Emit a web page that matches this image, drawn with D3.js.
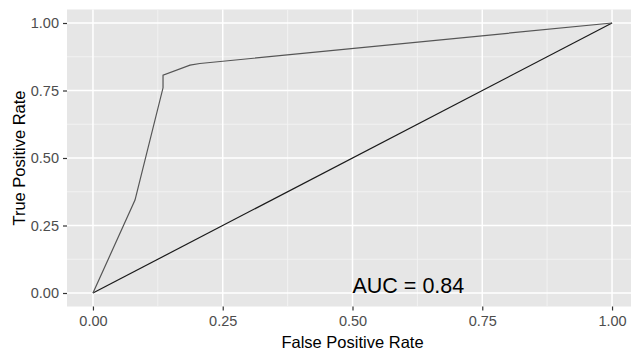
<!DOCTYPE html>
<html>
<head>
<meta charset="utf-8">
<script src="https://cdn.jsdelivr.net/npm/d3@7"></script>
<style>
  body { margin: 0; background: #fff; }
  svg { display: block; font-family: "Liberation Sans", Arial, sans-serif; }
</style>
</head>
<body>
<div id="chart"></div>
<script>
// ROC curve points
const fpr = [0, 0.081, 0.135, 0.135, 0.187, 0.206, 1];
const tpr = [0, 0.344, 0.76, 0.807, 0.844, 0.85, 1];
const xTicks = [0, 0.25, 0.5, 0.75, 1];
const yTicks = [0, 0.25, 0.5, 0.75, 1];
const aucLabel = "AUC = 0.84";

const width = 631, height = 351;
const panel = { left: 67, right: 638, top: 9.5, bottom: 306.5 };

let svg = d3.select("#chart")
    .append("svg")
    .attr("width", width)
    .attr("height", height);

// ggplot style expansion: 5% each side
let x = d3.scaleLinear().domain([-0.05, 1.05]).range([panel.left, panel.right]);
let y = d3.scaleLinear().domain([-0.05, 1.05]).range([panel.bottom, panel.top]);

svg.append("rect")
    .attr("x", panel.left)
    .attr("y", panel.top)
    .attr("width", panel.right - panel.left)
    .attr("height", panel.bottom - panel.top)
    .attr("fill", "#e6e6e6");

let minor = [0.125, 0.375, 0.625, 0.875];

// minor grid
svg.selectAll(".minx").data(minor).enter().append("line")
    .attr("x1", d => x(d)).attr("x2", d => x(d))
    .attr("y1", panel.top).attr("y2", panel.bottom)
    .attr("stroke", "#f5f5f5").attr("stroke-width", 0.8);
svg.selectAll(".miny").data(minor).enter().append("line")
    .attr("y1", d => y(d)).attr("y2", d => y(d))
    .attr("x1", panel.left).attr("x2", panel.right)
    .attr("stroke", "#f5f5f5").attr("stroke-width", 0.8);

// major grid
svg.selectAll(".majx").data(xTicks).enter().append("line")
    .attr("x1", d => x(d)).attr("x2", d => x(d))
    .attr("y1", panel.top).attr("y2", panel.bottom)
    .attr("stroke", "#fff").attr("stroke-width", 1.5);
svg.selectAll(".majy").data(yTicks).enter().append("line")
    .attr("y1", d => y(d)).attr("y2", d => y(d))
    .attr("x1", panel.left).attr("x2", panel.right)
    .attr("stroke", "#fff").attr("stroke-width", 1.5);

// axes
let xAxis = svg.append("g")
    .attr("transform", "translate(0," + panel.bottom + ")")
    .call(d3.axisBottom(x).tickValues(xTicks).tickFormat(d3.format(".2f")).tickSize(4).tickPadding(5));
let yAxis = svg.append("g")
    .attr("transform", "translate(" + panel.left + ",0)")
    .call(d3.axisLeft(y).tickValues(yTicks).tickFormat(d3.format(".2f")).tickSize(4).tickPadding(4));

[xAxis, yAxis].forEach(function(a) {
  a.select(".domain").remove();
  a.selectAll(".tick line").attr("stroke", "#333").attr("stroke-width", 1.2);
  a.selectAll(".tick text").attr("fill", "#4d4d4d").style("font-size", "14.5px")
      .style("font-family", "Liberation Sans, Arial, sans-serif");
});

// diagonal reference line
svg.append("line")
    .attr("x1", x(0)).attr("y1", y(0))
    .attr("x2", x(1)).attr("y2", y(1))
    .attr("stroke", "#1a1a1a").attr("stroke-width", 1.2);

// ROC curve
let line = d3.line()
    .x(function(d, i) { return x(fpr[i]); })
    .y(function(d, i) { return y(tpr[i]); });

svg.append("path")
    .datum(fpr)
    .attr("d", line)
    .attr("fill", "none")
    .attr("stroke", "#555")
    .attr("stroke-width", 1.2);

svg.append("text")
    .attr("x", x(0.5))
    .attr("y", 293)
    .attr("fill", "#000")
    .style("font-size", "21.5px")
    .text(aucLabel);

// axis titles
svg.append("text")
    .attr("x", x(0.5))
    .attr("y", 348)
    .attr("text-anchor", "middle")
    .style("font-size", "16.5px")
    .attr("fill", "#000")
    .text("False Positive Rate");

svg.append("text")
    .attr("transform", "translate(25," + y(0.5) + ") rotate(-90)")
    .attr("text-anchor", "middle")
    .style("font-size", "16.5px")
    .attr("fill", "#000")
    .text("True Positive Rate");
</script>
</body>
</html>
